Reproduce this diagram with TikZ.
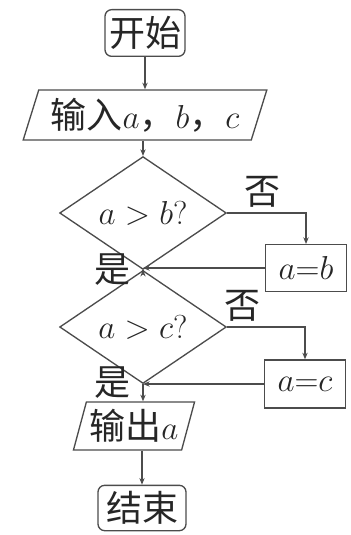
\documentclass[tikz,border=0pt]{standalone}
\usepackage{fontspec}
\newfontfamily\cjk{Noto Sans CJK SC}
\usetikzlibrary{shapes.geometric,arrows.meta}
\begin{document}
\begin{tikzpicture}[x=0.75pt,y=-0.75pt,
  font=\fontsize{27}{29}\selectfont,
  every node/.style={text=black!85},
  line/.style={draw=black!70, line width=1pt},
  arr/.style={line, -{Stealth[length=5pt,width=4pt]}},
  term/.style={draw=black!70, line width=1pt, rounded corners=5pt, inner sep=0pt, minimum width=60pt, minimum height=35pt},
  io/.style={draw=black!70, line width=1pt, trapezium, trapezium stretches=true, inner sep=0pt},
  dec/.style={draw=black!70, line width=1pt, diamond, inner sep=0pt, minimum width=125pt, minimum height=60pt},
  proc/.style={draw=black!70, line width=1pt, inner sep=0pt, minimum width=61pt, minimum height=35pt},
  lab/.style={inner sep=0pt}]
\useasboundingbox (0,0) rectangle (350,535);
\node[term] (start) at (145,33) {\cjk 开始};
\node[io, trapezium left angle=68, trapezium right angle=112, minimum width=183pt, minimum height=37.5pt] (in) at (145,115) {\cjk 输入$a$，$b$，$c$};
\node[dec] (d1) at (143,213) {$a>b?$};
\node[proc] (ab) at (306,268) {$a{=}b$};
\node[dec] (d2) at (143,327) {$a>c?$};
\node[proc, minimum height=36pt] (ac) at (305,384) {$a{=}c$};
\node[io, trapezium left angle=70, trapezium right angle=110, minimum width=91.5pt, minimum height=36pt] (out) at (134,426) {\cjk 输出$a$};
\node[term, minimum width=66pt, minimum height=34pt] (end) at (142,508) {\cjk 结束};
\node[lab] (no1) at (262,192) {\cjk 否};
\node[lab] (no2) at (242,306) {\cjk 否};
\node[lab] (yes1) at (112,270) {\cjk 是};
\node[lab] (yes2) at (112,383) {\cjk 是};
\draw[arr] (start.south |- start.south) -- (start.south |- in.north);
\draw[arr] (d1.north |- in.south) -- (d1.north);
\draw[arr] (d1.east) -| (ab.north);
\draw[arr] (ab.west) -- (ab.west -| d1.south);
\draw[arr] (d1.south) -- (d2.north);
\draw[arr] (d2.east) -| (ac.north);
\draw[arr] (ac.west) -- (ac.west -| d2.south);
\draw[arr] (d2.south) -- (d2.south |- out.north);
\draw[arr] (end.north |- out.south) -- (end.north);
\end{tikzpicture}
\end{document}
